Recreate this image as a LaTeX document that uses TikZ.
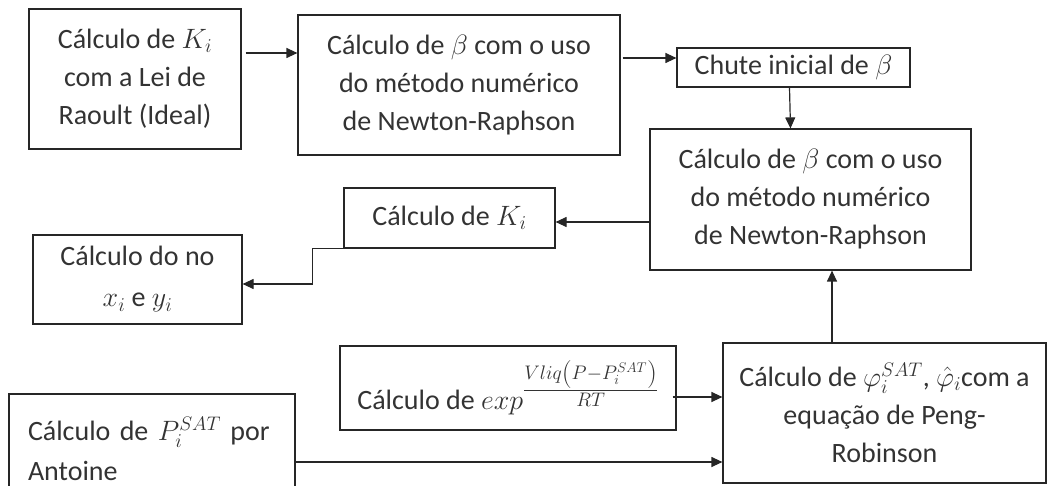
\documentclass[tikz,border=0pt]{standalone}
\usepackage{fix-cm}
\usepackage{amsmath}
\usepackage{fontspec}
\setmainfont{Carlito}
\usetikzlibrary{arrows.meta}

\begin{document}
\begin{tikzpicture}[x=1pt,y=-1pt,
		caixa/.style={draw=black!85,line width=1.2pt,align=center,inner sep=0pt,
			font=\fontsize{28}{38}\selectfont,text=black!80},
		seta/.style={draw=black!85,line width=1.2pt,-{Triangle[length=11pt,width=10pt]}}]
		\useasboundingbox (0,0) rectangle (1049,486);
		\clip (0,0) rectangle (1049,486);
		% caixas
		\node[caixa,minimum width=212pt,minimum height=140pt] (raoult) at (135,79)
			{Cálculo de $K_i$\\com a Lei de\\Raoult (Ideal)};
		\node[caixa,minimum width=322pt,minimum height=140pt] (newtonA) at (459,85)
			{Cálculo de $\beta$ com o uso\\do método numérico\\de Newton-Raphson};
		\node[caixa,minimum width=233pt,minimum height=39pt] (chute) at (793.5,67.5)
			{Chute inicial de $\beta$};
		\node[caixa,minimum width=321pt,minimum height=141pt] (newtonB) at (810.5,199.5)
			{Cálculo de $\beta$ com o uso\\do método numérico\\de Newton-Raphson};
		\node[caixa,minimum width=211pt,minimum height=60pt] (ki) at (449.5,218)
			{Cálculo de $K_i$};
		\node[caixa,minimum width=209pt,minimum height=89pt] (xy) at (137.5,279.5)
			{Cálculo do no\\[3pt]$x_i$ e $y_i$};
		\node[caixa,minimum width=336pt,minimum height=84pt] (expo) at (508,388)
			{Cálculo de $exp^{\textstyle\frac{Vliq\left(P-P_i^{SAT}\right)}{RT}}$};
		\node[caixa,minimum width=286pt,minimum height=110pt,align=left,text width=248pt] (psat) at (152,449)
			{Cálculo de $P_i^{SAT}$ por\\[2pt]Antoine};
		\node[caixa,minimum width=323pt,minimum height=140pt] (peng) at (884.5,413)
			{Cálculo de $\varphi_i^{SAT}$, $\hat{\varphi}_i$com a\\equação de Peng-\\Robinson};
		% setas
		\draw[seta] ([xshift=4pt,yshift=26pt]raoult.east) -- ([yshift=32pt]newtonA.west);
		\draw[seta] ([xshift=2pt,yshift=27pt]newtonA.east) -- ([yshift=9.5pt]chute.west);
		\draw[seta] ([xshift=-4pt]chute.south) -- ([xshift=-20pt]newtonB.north);
		\draw[seta] ([yshift=-22.5pt]newtonB.west) -- ([yshift=-4pt]ki.east);
		\draw[seta] (ki.south west) -- ++(-31,0) |- ([yshift=-4.5pt]xy.east);
		\draw[seta] ([xshift=-52.5pt]peng.north) -- ([xshift=21.5pt]newtonB.south);
		\draw[seta] ([xshift=-4pt,yshift=-9pt]expo.east) -- ([yshift=16pt]peng.west);
		\draw[seta] ([yshift=-13pt]psat.east) -- ([yshift=-49pt]peng.west);
	\end{tikzpicture}
\end{document}
